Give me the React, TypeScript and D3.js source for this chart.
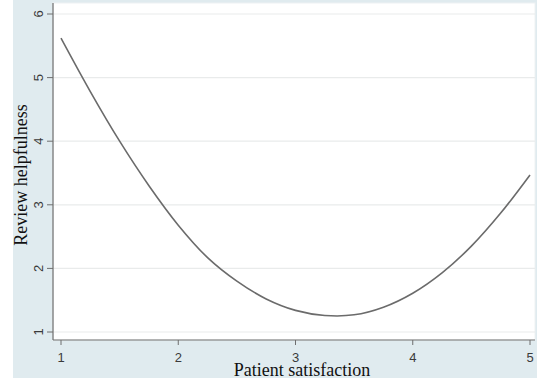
import React from "react";
import * as d3 from "d3";

// fitted curve of review helpfulness against patient satisfaction

const satisfaction = [1, 1.25, 1.5, 1.75, 2, 2.25, 2.5, 2.75, 3, 3.25, 3.5, 3.75, 4, 4.25, 4.5, 4.75, 5];
const helpfulness = [5.62, 4.78, 4.0, 3.3, 2.68, 2.17, 1.8, 1.52, 1.34, 1.26, 1.27, 1.39, 1.61, 1.93, 2.35, 2.87, 3.47];
const xTicks = [1, 2, 3, 4, 5];
const yTicks = [1, 2, 3, 4, 5, 6];

export default function App() {
  const W = 537;
  const H = 381;
  const plot = { left: 53, right: 535, top: 3, bottom: 340 };

  const x = d3.scaleLinear().domain([1, 5]).range([61, 530]);
  const y = d3.scaleLinear().domain([1, 6]).range([332, 14]);

  const pts: [number, number][] = satisfaction.map((s, i) => [s, helpfulness[i]]);
  const line = d3
    .line<[number, number]>()
    .x((d) => x(d[0]))
    .y((d) => y(d[1]))
    .curve(d3.curveCatmullRom);

  return (
    <svg
      width={W}
      height={H}
      style={{ position: "absolute", left: 0, top: 0, display: "block" }}
    >
      <rect x={0} y={0} width={W} height={H} fill="#ffffff" />
      <rect x={13} y={0} width={W - 13} height={378} fill="#e0ebef" />
      <rect
        x={plot.left}
        y={plot.top}
        width={plot.right - plot.left}
        height={plot.bottom - plot.top}
        fill="#ffffff"
        stroke="#eef2f3"
      />

      {yTicks.map((t) => (
        <line
          key={"g" + t}
          x1={plot.left}
          x2={plot.right}
          y1={y(t)}
          y2={y(t)}
          stroke="#e9ebeb"
          strokeWidth={1.2}
        />
      ))}

      <path d={line(pts) ?? ""} fill="none" stroke="#6b6b6b" strokeWidth={1.6} />

      {/* y axis */}
      <line x1={plot.left} x2={plot.left} y1={plot.top} y2={plot.bottom} stroke="#6e6e6e" strokeWidth={1.2} />
      {yTicks.map((t) => (
        <g key={"y" + t}>
          <line x1={plot.left - 6} x2={plot.left} y1={y(t)} y2={y(t)} stroke="#6e6e6e" />
          <text
            transform={`translate(${38},${y(t)}) rotate(-90)`}
            textAnchor="middle"
            dy="0.35em"
            fontFamily="Liberation Sans, Arial, sans-serif"
            fontSize={13}
            fill="#3a3a3a"
          >
            {t}
          </text>
        </g>
      ))}

      {/* x axis */}
      <line x1={plot.left} x2={plot.right} y1={plot.bottom} y2={plot.bottom} stroke="#6e6e6e" strokeWidth={1.2} />
      {xTicks.map((t) => (
        <g key={"x" + t}>
          <line x1={x(t)} x2={x(t)} y1={plot.bottom} y2={plot.bottom + 5} stroke="#6e6e6e" />
          <text
            x={x(t)}
            y={357}
            textAnchor="middle"
            dy="0.35em"
            fontFamily="Liberation Sans, Arial, sans-serif"
            fontSize={13}
            fill="#3a3a3a"
          >
            {t}
          </text>
        </g>
      ))}

      <text
        x={302}
        y={376}
        textAnchor="middle"
        fontFamily="Liberation Serif, Times New Roman, serif"
        fontSize={18}
        fill="#111"
      >
        Patient satisfaction
      </text>
      <text
        transform="translate(27,175) rotate(-90)"
        textAnchor="middle"
        fontFamily="Liberation Serif, Times New Roman, serif"
        fontSize={18}
        fill="#111"
      >
        Review helpfulness
      </text>
    </svg>
  );
}
